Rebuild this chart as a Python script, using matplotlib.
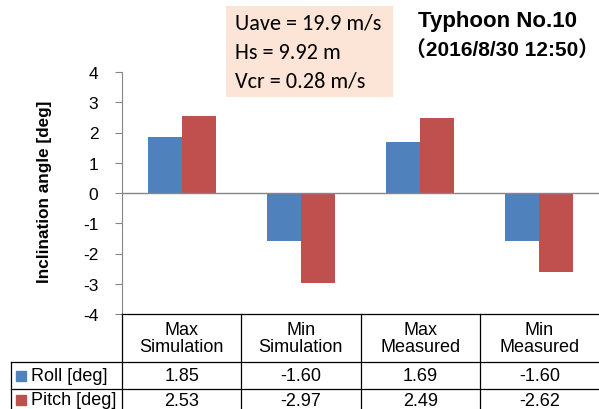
import matplotlib
matplotlib.use('Agg')
import matplotlib.pyplot as plt
import matplotlib.transforms as mtransforms
import numpy as np

CATEGORIES = ['Max\nSimulation', 'Min\nSimulation', 'Max\nMeasured', 'Min\nMeasured']
SERIES = ['Roll [deg]', 'Pitch [deg]']
ROLL = [1.85, -1.60, 1.69, -1.60]
PITCH = [2.53, -2.97, 2.49, -2.62]
COLORS = ['#4F81BD', '#C0504D']
INFO = ['Uave = 19.9 m/s', 'Hs = 9.92 m', 'Vcr = 0.28 m/s']
TITLE = ['Typhoon No.10', '\uff082016/8/30 12:50\uff09']

plt.rcParams['font.family'] = ['Liberation Sans', 'DejaVu Sans']
W, H = 599, 410
fig = plt.figure(figsize=(W / 100, H / 100), dpi=100)


def fx(px):
  return px / W


def fy(py):
  return 1 - py / H


ax = fig.add_axes([fx(122), fy(315), fx(599) - fx(122), fy(73) - fy(315)])
x = np.arange(len(CATEGORIES))
bw = 0.286
for k, (vals, col) in enumerate(zip([ROLL, PITCH], COLORS)):
  ax.bar(x + (k - 0.5) * bw, vals, bw, color=col, zorder=2)

ax.set_xlim(-0.5, len(CATEGORIES) - 0.5)
ax.set_ylim(-4, 4)
ax.set_yticks(range(-4, 5))
ax.set_yticklabels([str(v) for v in range(-4, 5)], fontsize=12.5)
ax.set_xticks([])
ax.axhline(0, color='#868686', lw=1, zorder=3)
for s in ['top', 'right', 'bottom']:
  ax.spines[s].set_visible(False)
ax.spines['left'].set_color('#868686')
ax.tick_params(axis='y', direction='out', length=5, color='#868686', pad=12)
fig.text(fx(45), fy(192), 'Inclination angle [deg]', rotation=90,
         ha='center', va='center', fontsize=12.3, fontweight='bold')

# data table below the chart
tr = mtransforms.blended_transform_factory(ax.transData, fig.transFigure)
lc = '#000000'
lw = 0.9
fig.add_artist(plt.Line2D([fx(122), 1], [fy(315), fy(315)], color=lc, lw=lw))
for yl in [363, 390]:
  fig.add_artist(plt.Line2D([fx(11), 1], [fy(yl), fy(yl)], color=lc, lw=lw))
fig.add_artist(plt.Line2D([fx(11), fx(11)], [fy(363), 0], color=lc, lw=lw))
fig.add_artist(plt.Line2D([fx(122), fx(122)], [fy(315), 0], color=lc, lw=lw))
for b in np.arange(0.5, len(CATEGORIES) - 0.5):
  fig.add_artist(plt.Line2D([b, b], [fy(315), 0], color=lc, lw=lw,
                            transform=tr))

for i, cat in enumerate(CATEGORIES):
  fig.text(i, fy(339), cat, transform=tr, ha='center', va='center',
           fontsize=13, linespacing=1.0)
  fig.text(i, fy(377), f'{ROLL[i]:.2f}', transform=tr, ha='center',
           va='center', fontsize=13)
  fig.text(i, fy(402), f'{PITCH[i]:.2f}', transform=tr, ha='center',
           va='center', fontsize=13)

for name, col, yc in zip(SERIES, COLORS, [377, 401]):
  fig.add_artist(plt.Rectangle((fx(16), fy(yc + 5)), fx(10), 10 / H,
                               color=col))
  fig.text(fx(31), fy(yc), name, ha='left', va='center', fontsize=13)

# condition box
fig.add_artist(plt.Rectangle((fx(226), fy(98)), fx(393) - fx(226),
                             (98 - 7) / H, color='#FCE4D6', lw=0))
for line, yc in zip(INFO, [24, 53, 82]):
  fig.text(fx(235), fy(yc), line, ha='left', va='center', fontsize=16,
           family=['Carlito', 'Lato', 'DejaVu Sans'])

fig.text(fx(497), fy(22), TITLE[0], ha='center', va='center', fontsize=16,
         fontweight='bold')
fig.text(fx(502), fy(50), TITLE[1], ha='center', va='center', fontsize=15,
         fontweight='bold',
         family=['Liberation Sans', 'Noto Sans CJK JP', 'DejaVu Sans'])

fig.savefig('out.png', dpi=100)
